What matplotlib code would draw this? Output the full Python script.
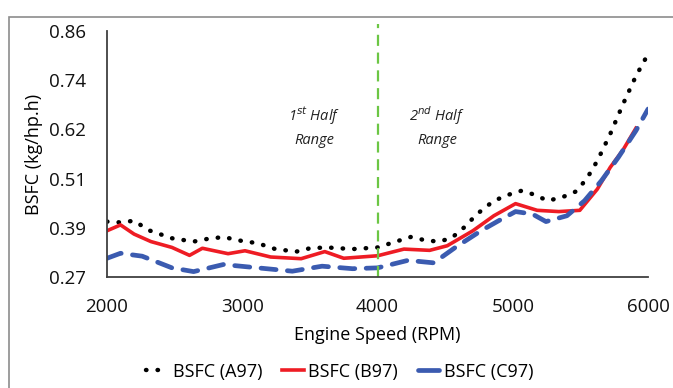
import matplotlib.pyplot as plt
from matplotlib.lines import Line2D
from matplotlib.patches import Rectangle

plt.rcParams['font.family'] = ['Open Sans', 'DejaVu Sans']

# BSFC (A97)
rpm_a = [2000, 2100, 2200, 2310, 2480, 2640, 2735, 2860, 2990, 3115, 3245, 3400,
         3500, 3625, 3815, 4000, 4135, 4245, 4355, 4450, 4545, 4640, 4735, 4860,
         4990, 5065, 5145, 5260, 5370, 5465, 5545, 5625, 5720, 5815, 5910, 6000]
bsfc_a = [0.403, 0.401, 0.405, 0.382, 0.363, 0.355, 0.361, 0.366, 0.357, 0.351, 0.337, 0.331,
          0.339, 0.341, 0.337, 0.341, 0.355, 0.366, 0.358, 0.355, 0.363, 0.389, 0.421, 0.453,
          0.470, 0.477, 0.469, 0.453, 0.462, 0.475, 0.505, 0.549, 0.613, 0.685, 0.752, 0.805]

# BSFC (B97)
rpm_b = [2000, 2100, 2200, 2325, 2480, 2610, 2705, 2895, 3020, 3210, 3435, 3610,
         3750, 4000, 4195, 4385, 4515, 4705, 4860, 5020, 5180, 5340, 5495, 5625,
         5720, 5815, 5910]
bsfc_b = [0.381, 0.395, 0.373, 0.355, 0.341, 0.322, 0.339, 0.326, 0.333, 0.318, 0.314, 0.331,
          0.315, 0.321, 0.337, 0.334, 0.345, 0.381, 0.417, 0.446, 0.430, 0.427, 0.430, 0.481,
          0.533, 0.575, 0.627]

# BSFC (C97)
rpm_c = [2000, 2100, 2260, 2480, 2640, 2860, 3115, 3370, 3590, 3815, 4000, 4225,
         4415, 4575, 4765, 4895, 5020, 5145, 5245, 5400, 5530, 5655, 5780, 5910, 6000]
bsfc_c = [0.315, 0.327, 0.320, 0.292, 0.283, 0.300, 0.292, 0.284, 0.296, 0.290, 0.292, 0.310,
          0.304, 0.341, 0.381, 0.405, 0.427, 0.421, 0.403, 0.417, 0.453, 0.501, 0.557, 0.621, 0.673]

y_ticks = [0.27, 0.388, 0.506, 0.624, 0.742, 0.86]
y_labels = ['0.27', '0.39', '0.51', '0.62', '0.74', '0.86']
x_ticks = [2000, 3000, 4000, 5000, 6000]

fig = plt.figure(figsize=(6.73, 3.88), dpi=100)
ax = fig.add_axes([0.159, 0.286, 0.804, 0.634])

# outer gray frame
fig.patches.append(Rectangle((0.0134, -0.2), 1.2, 1.156, transform=fig.transFigure,
                             fill=False, edgecolor='#8c8c8c', linewidth=1.2))

ax.plot(rpm_a, bsfc_a, color='black', linestyle=(0, (0.1, 2.5)), linewidth=3.2,
        dash_capstyle='round', label='BSFC (A97)')
ax.plot(rpm_b, bsfc_b, color='#ee1c24', linewidth=2.6, label='BSFC (B97)')
ax.plot(rpm_c, bsfc_c, color='#3b5bb0', linestyle=(0, (3.2, 2.4)), linewidth=3.4,
        dash_capstyle='round', label='BSFC (C97)')

ax.plot([4000, 4000], [0.27, 0.876], color='#6cc644', linestyle=(0, (5, 3)),
        linewidth=1.6, clip_on=False)

ax.text(3530, 0.632, '1$^{st}$ Half\nRange', style='italic', fontsize=10.5,
        ha='center', va='center', color='#222222', linespacing=1.55)
ax.text(4440, 0.632, '2$^{nd}$ Half\nRange', style='italic', fontsize=10.5,
        ha='center', va='center', color='#222222', linespacing=1.55)

ax.set_xlim(2000, 6000)
ax.set_ylim(0.27, 0.86)
ax.set_xticks(x_ticks)
ax.set_yticks(y_ticks)
ax.set_yticklabels(y_labels)
ax.tick_params(length=0, labelsize=13.5, colors='#111111')
ax.tick_params(axis='y', pad=15)
ax.tick_params(axis='x', pad=15)
ax.set_xlabel('Engine Speed (RPM)', fontsize=13, labelpad=7)
ax.set_ylabel('BSFC (kg/hp.h)', fontsize=13, labelpad=4)

for side in ['top', 'right']:
    ax.spines[side].set_visible(False)
ax.spines['left'].set_color('#404040')
ax.spines['bottom'].set_color('#404040')
ax.spines['left'].set_linewidth(1.3)
ax.spines['bottom'].set_linewidth(1.3)

handles = [Line2D([], [], color='black', linestyle=(0, (0.1, 2.5)), linewidth=3.2,
                  dash_capstyle='round'),
           Line2D([], [], color='#ee1c24', linewidth=2.6),
           Line2D([], [], color='#3b5bb0', linewidth=3.4, solid_capstyle='round')]
fig.legend(handles, ['BSFC (A97)', 'BSFC (B97)', 'BSFC (C97)'], loc='center',
           bbox_to_anchor=(0.505, 0.042), ncol=3, frameon=False, fontsize=13,
           handlelength=1.2, handletextpad=0.25, columnspacing=1.1)

fig.savefig('out.png', dpi=100)
